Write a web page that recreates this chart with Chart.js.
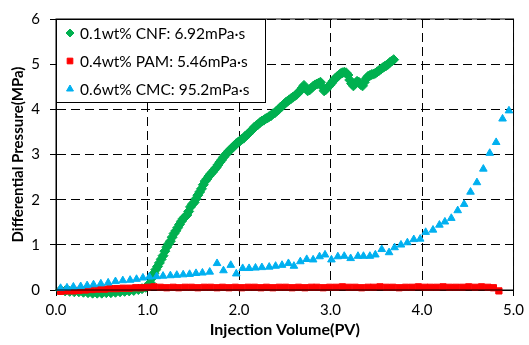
<!DOCTYPE html>
<html>
<head>
<meta charset="utf-8">
<script src="https://cdn.jsdelivr.net/npm/chart.js@4.4.1/dist/chart.umd.min.js"></script>
<style>
  html, body { margin: 0; padding: 0; background: #fff; }
  #wrap { width: 529px; height: 345px; }
</style>
</head>
<body>
<div id="wrap"><canvas id="myChart" width="529" height="345"></canvas></div>
<script>
// Eixos
const xTicks = [0, 1, 2, 3, 4, 5];
const yTicks = [0, 1, 2, 3, 4, 5, 6];

// 0.1wt% CNF
const cnfPV = [0.05, 0.10, 0.15, 0.20, 0.25, 0.30, 0.35, 0.40, 0.45, 0.50, 0.55, 0.60, 0.65, 0.70, 0.75, 0.80, 0.85, 0.90, 0.94, 0.98,
  1.01, 1.03, 1.05, 1.07, 1.09, 1.11, 1.13, 1.15, 1.17, 1.19, 1.21, 1.23, 1.25, 1.27, 1.29, 1.31, 1.33, 1.35, 1.37, 1.39,
  1.41, 1.43, 1.45, 1.47, 1.49, 1.51, 1.53, 1.55, 1.57, 1.59, 1.61, 1.63, 1.65, 1.67, 1.69, 1.71, 1.73, 1.75, 1.77, 1.79,
  1.81, 1.83, 1.85, 1.87, 1.89, 1.91, 1.93, 1.95, 1.97, 1.99, 2.01, 2.03, 2.05, 2.07, 2.09, 2.11, 2.13, 2.15, 2.17, 2.19,
  2.21, 2.23, 2.25, 2.27, 2.29, 2.31, 2.33, 2.35, 2.37, 2.39, 2.41, 2.43, 2.45, 2.47, 2.49, 2.51, 2.53, 2.55, 2.57, 2.59,
  2.61, 2.63, 2.65, 2.67, 2.69, 2.71, 2.73, 2.75, 2.77, 2.79, 2.81, 2.83, 2.85, 2.87, 2.89, 2.91, 2.93, 2.95, 2.97, 2.99,
  3.01, 3.03, 3.05, 3.07, 3.09, 3.11, 3.13, 3.15, 3.17, 3.19, 3.21, 3.23, 3.25, 3.27, 3.29, 3.31, 3.33, 3.35, 3.37, 3.39,
  3.41, 3.43, 3.45, 3.47, 3.49, 3.51, 3.53, 3.55, 3.57, 3.59, 3.61, 3.63, 3.65, 3.67, 3.69];
const cnfDP = [0.00, -0.02, -0.03, -0.04, -0.04, -0.05, -0.06, -0.07, -0.07, -0.07, -0.06, -0.06, -0.05, -0.04, -0.03, -0.02, -0.01, 0.01, 0.03, 0.06,
  0.09, 0.16, 0.27, 0.37, 0.45, 0.52, 0.60, 0.68, 0.76, 0.86, 0.95, 1.02, 1.08, 1.17, 1.25, 1.31, 1.38, 1.45, 1.52, 1.58,
  1.62, 1.66, 1.74, 1.84, 1.90, 1.94, 2.02, 2.10, 2.17, 2.24, 2.33, 2.41, 2.46, 2.52, 2.57, 2.61, 2.66, 2.71, 2.77, 2.83,
  2.88, 2.94, 2.99, 3.03, 3.08, 3.12, 3.15, 3.20, 3.24, 3.27, 3.30, 3.34, 3.36, 3.41, 3.44, 3.48, 3.52, 3.56, 3.61, 3.64,
  3.67, 3.71, 3.74, 3.76, 3.79, 3.81, 3.84, 3.86, 3.90, 3.92, 3.96, 3.99, 4.04, 4.07, 4.11, 4.15, 4.18, 4.21, 4.24, 4.27,
  4.30, 4.33, 4.37, 4.42, 4.47, 4.53, 4.46, 4.41, 4.43, 4.47, 4.51, 4.54, 4.56, 4.58, 4.60, 4.50, 4.41, 4.44, 4.49, 4.53,
  4.58, 4.63, 4.68, 4.72, 4.75, 4.79, 4.81, 4.82, 4.81, 4.76, 4.65, 4.57, 4.52, 4.57, 4.62, 4.60, 4.55, 4.52, 4.60, 4.68,
  4.73, 4.75, 4.77, 4.78, 4.80, 4.83, 4.86, 4.89, 4.92, 4.95, 4.97, 5.00, 5.04, 5.07, 5.10];

// 0.4wt% PAM
const pamPV = [0.05, 0.12, 0.19, 0.25, 0.32, 0.39, 0.46, 0.53, 0.59, 0.66, 0.73, 0.80, 0.87, 0.93, 1.00, 1.07, 1.14, 1.21, 1.28, 1.34,
  1.41, 1.48, 1.55, 1.62, 1.69, 1.76, 1.82, 1.89, 1.96, 2.03, 2.10, 2.17, 2.24, 2.30, 2.37, 2.44, 2.51, 2.58, 2.65, 2.72,
  2.79, 2.85, 2.92, 2.99, 3.06, 3.13, 3.20, 3.27, 3.34, 3.41, 3.47, 3.54, 3.61, 3.68, 3.75, 3.82, 3.89, 3.96, 4.03, 4.09,
  4.16, 4.23, 4.30, 4.37, 4.44, 4.51, 4.58, 4.65, 4.72, 4.78, 4.84];
const pamDP = [-0.03, -0.02, -0.02, -0.01, 0.00, 0.01, 0.02, 0.02, 0.03, 0.03, 0.04, 0.04, 0.05, 0.05, 0.06, 0.07, 0.06, 0.05, 0.06, 0.05,
  0.06, 0.06, 0.05, 0.06, 0.06, 0.05, 0.06, 0.05, 0.06, 0.05, 0.06, 0.06, 0.05, 0.06, 0.05, 0.06, 0.06, 0.05, 0.06, 0.05,
  0.06, 0.06, 0.05, 0.06, 0.06, 0.07, 0.06, 0.06, 0.05, 0.06, 0.06, 0.07, 0.06, 0.06, 0.05, 0.06, 0.06, 0.07, 0.06, 0.06,
  0.06, 0.07, 0.06, 0.06, 0.06, 0.07, 0.06, 0.07, 0.06, 0.05, -0.02];

// 0.6wt% CMC
const cmcPV = [0.05, 0.12, 0.19, 0.27, 0.34, 0.41, 0.49, 0.57, 0.65, 0.73, 0.81, 0.88, 0.95, 1.02, 1.10, 1.17, 1.25, 1.32, 1.39, 1.46,
  1.53, 1.60, 1.68, 1.76, 1.83, 1.91, 1.97, 2.04, 2.11, 2.18, 2.25, 2.33, 2.40, 2.47, 2.54, 2.60, 2.67, 2.74, 2.81, 2.88,
  2.94, 3.01, 3.08, 3.15, 3.22, 3.30, 3.36, 3.43, 3.49, 3.56, 3.64, 3.70, 3.77, 3.84, 3.91, 3.98, 4.04, 4.12, 4.19, 4.25,
  4.32, 4.39, 4.46, 4.53, 4.60, 4.67, 4.74, 4.81, 4.88, 4.95];
const cmcDP = [0.04, 0.05, 0.07, 0.08, 0.10, 0.12, 0.14, 0.16, 0.19, 0.21, 0.22, 0.24, 0.27, 0.29, 0.30, 0.31, 0.32, 0.33, 0.34, 0.35,
  0.37, 0.38, 0.40, 0.59, 0.43, 0.55, 0.36, 0.48, 0.48, 0.49, 0.50, 0.51, 0.53, 0.55, 0.59, 0.53, 0.63, 0.68, 0.67, 0.74,
  0.78, 0.67, 0.74, 0.75, 0.70, 0.75, 0.75, 0.75, 0.78, 0.90, 0.83, 0.94, 1.00, 1.05, 1.12, 1.13, 1.28, 1.33, 1.44, 1.51,
  1.59, 1.76, 1.90, 2.17, 2.38, 2.68, 3.03, 3.27, 3.79, 3.97];

const toPoints = (xs, ys) => xs.map((x, i) => ({ x: x, y: ys[i] }));

const FONT = 'Lato, "Open Sans", sans-serif';

// Legenda dentro da área do gráfico + moldura sólida
const framePlugin = {
  id: 'frame',
  afterDraw(chart) {
    const { ctx, chartArea: a } = chart;
    ctx.save();
    ctx.strokeStyle = '#000';
    ctx.lineWidth = 1;
    ctx.setLineDash([]);
    ctx.strokeRect(a.left, a.top, a.right - a.left, a.bottom - a.top);

    // caixa da legenda
    const bx = a.left, by = a.top, bw = 209, bh = 83;
    ctx.fillStyle = '#fff';
    ctx.fillRect(bx, by, bw, bh);
    ctx.strokeRect(bx + 0.5, by + 0.5, bw, bh);

    ctx.font = '15.5px ' + FONT;
    ctx.textBaseline = 'middle';
    ctx.textAlign = 'left';
    chart.data.datasets.forEach((ds, i) => {
      const y = by + 14 + i * 28;
      const opts = {
        pointStyle: ds.pointStyle, radius: 4, rotation: 0,
        borderWidth: 1
      };
      ctx.fillStyle = ds.backgroundColor;
      ctx.strokeStyle = ds.borderColor;
      Chart.helpers.drawPoint(ctx, opts, bx + 14, y);
      ctx.fillStyle = '#000';
      ctx.fillText(ds.label, bx + 24, y + 1);
    });
    ctx.restore();
  }
};

const ctx = document.getElementById('myChart').getContext('2d');

const myChart = new Chart(ctx, {
  type: 'scatter',
  data: {
    datasets: [{
      label: '0.1wt% CNF: 6.92mPa·s',
      data: toPoints(cnfPV, cnfDP),
      pointStyle: 'rectRot',
      pointRadius: 5,
      backgroundColor: '#00B050',
      borderColor: '#00B050',
      order: 3,
      clip: false
    }, {
      label: '0.4wt% PAM: 5.46mPa·s',
      data: toPoints(pamPV, pamDP),
      pointStyle: 'rect',
      pointRadius: 4.4,
      backgroundColor: '#FF0000',
      borderColor: '#FF0000',
      order: 2,
      clip: false
    }, {
      label: '0.6wt% CMC: 95.2mPa·s',
      data: toPoints(cmcPV, cmcDP),
      pointStyle: 'triangle',
      pointRadius: 4.4,
      backgroundColor: '#00B0F0',
      borderColor: '#00B0F0',
      order: 1,
      clip: false
    }]
  },
  options: {
    responsive: false,
    animation: false,
    layout: { padding: { top: 19, right: 12, left: 0, bottom: 0 } },
    plugins: {
      legend: { display: false },
      tooltip: { enabled: false }
    },
    scales: {
      x: {
        type: 'linear',
        min: 0,
        max: 5,
        afterBuildTicks: (s) => { s.ticks = xTicks.map(v => ({ value: v })); },
        afterFit: (s) => { s.height = 55; },
        ticks: {
          color: '#000',
          padding: 5,
          font: { family: FONT, size: 15 },
          callback: (v) => Number(v).toFixed(1)
        },
        grid: { color: '#000', lineWidth: 1, tickLength: 6, tickColor: '#000' },
        border: { display: true, color: '#000', width: 1, dash: [9, 5] },
        title: {
          display: true,
          text: 'Injection Volume(PV)',
          color: '#000',
          padding: { top: 6, bottom: 6 },
          font: { family: FONT, size: 16, weight: 'bold' }
        }
      },
      y: {
        type: 'linear',
        min: 0,
        max: 6,
        afterBuildTicks: (s) => { s.ticks = yTicks.map(v => ({ value: v })); },
        afterFit: (s) => { s.width = 56; },
        ticks: {
          color: '#000',
          padding: 10,
          font: { family: FONT, size: 15 }
        },
        grid: { color: '#000', lineWidth: 1, tickLength: 6, tickColor: '#000' },
        border: { display: true, color: '#000', width: 1, dash: [9, 5] },
        title: {
          display: true,
          text: 'Differential Pressure(MPa)',
          color: '#000',
          padding: { top: 9, bottom: 9 },
          font: { family: FONT, size: 15, weight: 'bold' }
        }
      }
    }
  },
  plugins: [framePlugin]
});
</script>
</body>
</html>
